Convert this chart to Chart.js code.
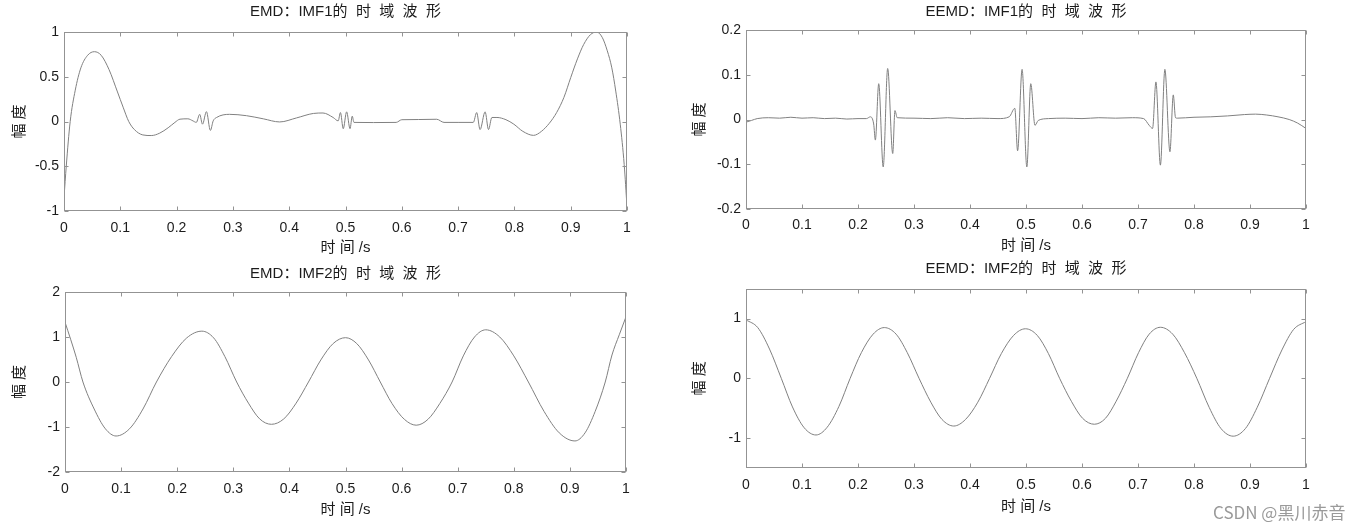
<!DOCTYPE html>
<html>
<head>
<meta charset="utf-8">
<script src="https://cdn.jsdelivr.net/npm/chart.js@4.4.0/dist/chart.umd.min.js"></script>
<style>
  body { margin: 0; background: #fff; width: 1365px; height: 530px; position: relative; overflow: hidden; }
  canvas { position: absolute; }
  #mark { position: absolute; left: 1213px; top: 503px; font: 17px/1 'Noto Sans CJK SC', sans-serif; color: #9a9a9a; white-space: nowrap; }
</style>
</head>
<body>
<canvas id="emd1" width="682" height="265" style="left:0;top:0"></canvas>
<canvas id="eemd1" width="683" height="265" style="left:682px;top:0"></canvas>
<canvas id="emd2" width="682" height="265" style="left:0;top:265px"></canvas>
<canvas id="eemd2" width="683" height="270" style="left:682px;top:260px"></canvas>
<div id="mark">CSDN @黑川赤音</div>
<script>
// tick labels
const xTicks = [0, 0.1, 0.2, 0.3, 0.4, 0.5, 0.6, 0.7, 0.8, 0.9, 1];
const yTicksEmd1 = [-1, -0.5, 0, 0.5, 1];
const yTicksEemd1 = [-0.2, -0.1, 0, 0.1, 0.2];
const yTicksEmd2 = [-2, -1, 0, 1, 2];
const yTicksEemd2 = [-1, 0, 1];

// EMD: IMF1
const emd1T = [0, 0.004, 0.011, 0.02, 0.03, 0.042, 0.054, 0.066, 0.08, 0.095, 0.105, 0.115, 0.125, 0.14, 0.155, 0.17, 0.185, 0.197,
  0.206, 0.22, 0.229, 0.235, 0.241, 0.246, 0.253, 0.26, 0.265, 0.271, 0.294, 0.324, 0.354, 0.383, 0.413, 0.443, 0.46, 0.478,
  0.487, 0.491, 0.496, 0.502, 0.508, 0.512, 0.515, 0.55, 0.59, 0.6, 0.63, 0.662, 0.675, 0.7, 0.727, 0.733, 0.739, 0.748, 0.754,
  0.76, 0.769, 0.785, 0.799, 0.815, 0.834, 0.848, 0.862, 0.875, 0.888, 0.9, 0.912, 0.923, 0.935, 0.946, 0.956, 0.965, 0.973,
  0.98, 0.988, 0.995, 1];
const emd1V = [-0.85, -0.5, 0, 0.35, 0.6, 0.74, 0.78, 0.74, 0.58, 0.33, 0.16, 0, -0.09, -0.15, -0.157, -0.13, -0.07, -0.01,
  0.026, 0.03, 0.007, -0.01, 0.08, -0.03, 0.11, -0.1, 0.007, 0.045, 0.08, 0.065, 0.03, -0.005, 0.04, 0.09, 0.095, 0.045,
  0.007, 0.1, -0.08, 0.108, -0.08, 0.06, -0.01, -0.012, -0.01, 0.02, 0.022, 0.025, -0.01, -0.01, -0.01, 0.1, -0.09, 0.108, -0.09,
  0.045, 0.045, 0.02, -0.03, -0.11, -0.155, -0.11, -0.02, 0.1, 0.27, 0.49, 0.7, 0.86, 0.97, 1.0, 0.94, 0.79, 0.6,
  0.34, -0.03, -0.48, -0.95];

// EEMD: IMF1
const eemd1T = [0, 0.01, 0.02, 0.04, 0.06, 0.08, 0.1, 0.12, 0.14, 0.16, 0.18, 0.2, 0.215, 0.222, 0.228, 0.231, 0.237, 0.245,
  0.253, 0.262, 0.266, 0.27, 0.3, 0.33, 0.36, 0.39, 0.42, 0.45, 0.47, 0.48, 0.485, 0.493, 0.5015, 0.5085, 0.516, 0.522,
  0.54, 0.57, 0.6, 0.63, 0.66, 0.69, 0.71, 0.72, 0.726, 0.732, 0.74, 0.748, 0.757, 0.763, 0.767, 0.77, 0.8, 0.83, 0.86,
  0.89, 0.91, 0.93, 0.95, 0.97, 0.985, 1];
const eemd1V = [-0.006, -0.002, 0.002, 0.004, 0.003, 0.005, 0.003, 0.004, 0.002, 0.003, 0.001, 0.002, 0.002, 0.006, -0.01, -0.046, 0.08, -0.106,
  0.114, -0.076, 0.02, 0.004, 0.003, 0.002, 0.004, 0.002, 0.003, 0.002, 0.006, 0.025, -0.07, 0.112, -0.106, 0.08, -0.013, -0.002,
  0.002, 0.003, 0.002, 0.004, 0.003, 0.004, 0.002, -0.013, -0.02, 0.084, -0.102, 0.112, -0.072, 0.055, 0.004, 0.003, 0.005, 0.006, 0.008,
  0.011, 0.012, 0.01, 0.006, 0, -0.008, -0.02];

// EMD: IMF2
const emd2T = [0, 0.01, 0.02, 0.032, 0.052, 0.072, 0.091, 0.115, 0.139, 0.163, 0.19, 0.217, 0.244, 0.265, 0.285, 0.306, 0.327,
  0.347, 0.368, 0.39, 0.412, 0.434, 0.456, 0.478, 0.5, 0.52, 0.541, 0.562, 0.583, 0.605, 0.626, 0.647, 0.668, 0.69, 0.71,
  0.73, 0.75, 0.775, 0.8, 0.826, 0.854, 0.881, 0.909, 0.927, 0.945, 0.963, 0.975, 0.988, 1];
const emd2V = [1.33, 0.95, 0.55, 0, -0.6, -1.04, -1.2, -1.04, -0.6, 0, 0.565, 0.98, 1.13, 0.98, 0.565, 0, -0.47,
  -0.82, -0.94, -0.82, -0.47, 0, 0.49, 0.855, 0.985, 0.855, 0.49, 0, -0.48, -0.83, -0.96, -0.83, -0.48, 0, 0.58,
  1.0, 1.16, 1.0, 0.58, 0, -0.655, -1.13, -1.31, -1.13, -0.655, 0, 0.6, 1.05, 1.45];

// EEMD: IMF2
const eemd2T = [0, 0.021, 0.042, 0.063, 0.083, 0.104, 0.125, 0.145, 0.166, 0.186, 0.206, 0.227, 0.247, 0.268, 0.288, 0.309,
  0.33, 0.35, 0.371, 0.392, 0.414, 0.435, 0.456, 0.478, 0.499, 0.52, 0.54, 0.56, 0.581, 0.601, 0.622, 0.642, 0.661, 0.681,
  0.701, 0.72, 0.74, 0.762, 0.783, 0.805, 0.827, 0.848, 0.87, 0.892, 0.913, 0.935, 0.957, 0.978, 1];
const eemd2V = [0.98, 0.85, 0.49, 0, -0.48, -0.83, -0.95, -0.82, -0.47, 0, 0.43, 0.74, 0.85, 0.74, 0.43, 0,
  -0.4, -0.69, -0.8, -0.69, -0.4, 0, 0.415, 0.72, 0.83, 0.72, 0.415, 0, -0.385, -0.67, -0.77, -0.67, -0.385, 0,
  0.43, 0.74, 0.855, 0.74, 0.43, 0, -0.485, -0.84, -0.97, -0.84, -0.485, 0, 0.475, 0.82, 0.95];

const FONT = "'Liberation Sans', 'Noto Sans CJK SC', sans-serif";
const TEXT = '#1c1c1c';

// matlab style box with inward ticks
const matlabBox = {
  id: 'matlabBox',
  afterDatasetsDraw(chart) {
    const { ctx, chartArea: a, scales: { x, y } } = chart;
    const L = Math.round(a.left) + 0.5, R = Math.round(a.right) - 0.5;
    const T = Math.round(a.top) + 0.5, B = Math.round(a.bottom) - 0.5;
    ctx.save();
    ctx.strokeStyle = '#939393';
    ctx.lineWidth = 1;
    ctx.strokeRect(L, T, R - L, B - T);
    ctx.beginPath();
    x.ticks.forEach(t => {
      const px = Math.round(x.getPixelForValue(t.value)) + 0.5;
      ctx.moveTo(px, T); ctx.lineTo(px, T + 4);
      ctx.moveTo(px, B); ctx.lineTo(px, B - 4);
    });
    y.ticks.forEach(t => {
      const py = Math.round(y.getPixelForValue(t.value)) + 0.5;
      ctx.moveTo(L, py); ctx.lineTo(L + 4, py);
      ctx.moveTo(R, py); ctx.lineTo(R - 4, py);
    });
    ctx.stroke();
    ctx.restore();
  }
};

function makeChart(id, p) {
  new Chart(document.getElementById(id), {
    type: 'line',
    data: {
      datasets: [{
        data: p.t.map((t, i) => ({ x: t, y: p.v[i] })),
        borderColor: '#808080',
        borderWidth: 1,
        pointRadius: 0,
        cubicInterpolationMode: 'monotone'
      }]
    },
    options: {
      responsive: false,
      animation: false,
      devicePixelRatio: 1,
      layout: { padding: { left: 0, right: p.padRight, top: 0, bottom: 0 } },
      plugins: {
        legend: { display: false },
        tooltip: { enabled: false },
        title: {
          display: true,
          text: p.title,
          fullSize: false,
          color: TEXT,
          font: { family: FONT, size: 15, weight: 'normal', lineHeight: 1.2 },
          padding: { top: p.titleTop, bottom: p.titleBottom }
        }
      },
      scales: {
        x: {
          type: 'linear',
          min: 0,
          max: 1,
          grid: { display: false, drawTicks: false },
          border: { display: false },
          afterBuildTicks: s => { s.ticks = xTicks.map(v => ({ value: v })); },
          afterFit: s => { s.height = p.xHeight; },
          ticks: { color: TEXT, font: { family: FONT, size: 14 }, padding: p.xTickPad, maxRotation: 0, autoSkip: false, callback: v => String(v) },
          title: { display: true, text: '时 间 /s', color: TEXT, font: { family: FONT, size: 15 }, padding: { top: 0, bottom: p.xTitlePad } }
        },
        y: {
          type: 'linear',
          min: p.yMin,
          max: p.yMax,
          grid: { display: false, drawTicks: false },
          border: { display: false },
          afterBuildTicks: s => { s.ticks = p.yTicks.map(v => ({ value: v })); },
          afterFit: s => { s.width = p.yWidth; },
          ticks: { color: TEXT, font: { family: FONT, size: 14 }, padding: 5, autoSkip: false, callback: v => String(v) },
          title: { display: true, text: '幅 度', color: TEXT, font: { family: FONT, size: 15 }, padding: { top: p.yTitlePad, bottom: 0 } }
        }
      }
    },
    plugins: [matlabBox]
  });
}

makeChart('emd1', {
  title: 'EMD：IMF1的  时  域  波  形', t: emd1T, v: emd1V, yMin: -1, yMax: 1, yTicks: yTicksEmd1,
  yWidth: 64, padRight: 55, titleTop: 3, titleBottom: 11, xHeight: 54, xTickPad: 9, xTitlePad: 8, yTitlePad: 11
});
makeChart('eemd1', {
  title: 'EEMD：IMF1的  时  域  波  形', t: eemd1T, v: eemd1V, yMin: -0.2, yMax: 0.2, yTicks: yTicksEemd1,
  yWidth: 64, padRight: 59, titleTop: 3, titleBottom: 9, xHeight: 56, xTickPad: 8, xTitlePad: 10, yTitlePad: 9
});
makeChart('emd2', {
  title: 'EMD：IMF2的  时  域  波  形', t: emd2T, v: emd2V, yMin: -2, yMax: 2, yTicks: yTicksEmd2,
  yWidth: 65, padRight: 56, titleTop: 0, titleBottom: 9, xHeight: 58, xTickPad: 8.5, xTitlePad: 11.3, yTitlePad: 11
});
makeChart('eemd2', {
  title: 'EEMD：IMF2的  时  域  波  形', t: eemd2T, v: eemd2V, yMin: -1.5, yMax: 1.5, yTicks: yTicksEemd2,
  yWidth: 64, padRight: 59, titleTop: 0, titleBottom: 10.8, xHeight: 62.2, xTickPad: 9, xTitlePad: 13.7, yTitlePad: 9
});
</script>
</body>
</html>
